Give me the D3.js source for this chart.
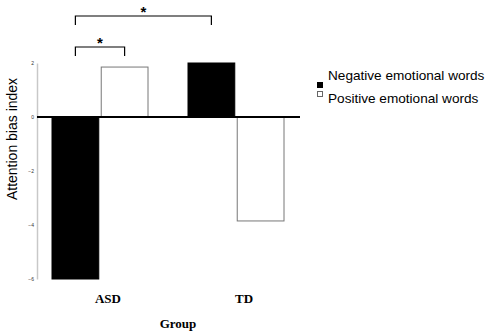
<!DOCTYPE html>
<html>
<head>
<meta charset="utf-8">
<script src="https://cdn.jsdelivr.net/npm/d3@7/dist/d3.min.js"></script>
<style>
  html, body { margin: 0; padding: 0; background: #fff; }
  svg { display: block; }
</style>
</head>
<body>
<svg id="chart" width="485" height="333"></svg>
<script>
// Groups and conditions
const groups = ["ASD", "TD"];
const conditions = ["Negative emotional words", "Positive emotional words"];
// Attention bias index per group, one value per condition
const negativeValues = [-6.0, 2.0];
const positiveValues = [1.85, -3.85];
const yTicks = [2, 0, -2, -4, -6];
const conditionFill = ["#000000", "#ffffff"];
// Significance brackets: [group, condition] pairs joined by each bracket
const brackets = [
  { from: [0, 0], to: [0, 1], label: "*", level: 0 },
  { from: [0, 0], to: [1, 0], label: "*", level: 1 }
];

const svg = d3.select("#chart");

const y = d3.scaleLinear().domain([-6, 2]).range([279, 63]);
const xGroup = d3.scaleBand().domain(groups).range([52, 284]).paddingInner(40 / 136).paddingOuter(0);
const xCond = d3.scaleBand().domain(conditions).range([0, xGroup.bandwidth()]).paddingInner(0.05);

const rows = [];
groups.forEach((g, i) => {
  rows.push({ group: g, cond: conditions[0], value: negativeValues[i], ci: 0 });
  rows.push({ group: g, cond: conditions[1], value: positiveValues[i], ci: 1 });
});

// Y axis
const yAxis = d3.axisLeft(y).tickValues(yTicks).tickSize(0).tickPadding(3).tickFormat(d3.format("d"));
const gy = svg.append("g").attr("transform", "translate(37,0)").call(yAxis);
gy.select(".domain").attr("stroke", "#c8c8c8").attr("stroke-width", 1.5);
gy.selectAll("text").attr("font-family", "Liberation Sans, Arial, sans-serif").attr("font-size", 5).attr("fill", "#333");

// Bars
svg.append("g").selectAll("rect").data(rows).join("rect")
  .attr("x", d => xGroup(d.group) + xCond(d.cond))
  .attr("width", xCond.bandwidth())
  .attr("y", d => y(Math.max(0, d.value)))
  .attr("height", d => Math.abs(y(d.value) - y(0)))
  .attr("fill", d => conditionFill[d.ci])
  .attr("stroke", d => d.ci === 0 ? "#000" : "#777")
  .attr("stroke-width", 1);

// Zero line
svg.append("line")
  .attr("x1", 37).attr("x2", 300)
  .attr("y1", y(0)).attr("y2", y(0))
  .attr("stroke", "#000").attr("stroke-width", 2);

// Group labels
svg.append("g").selectAll("text").data(groups).join("text")
  .attr("x", d => xGroup(d) + xGroup.bandwidth() / 2 + 8)
  .attr("y", 303)
  .attr("text-anchor", "middle")
  .attr("font-family", "Liberation Serif, Times New Roman, serif")
  .attr("font-weight", "bold")
  .attr("font-size", 13)
  .text(d => d);

// Axis titles
svg.append("text")
  .attr("x", 178).attr("y", 328)
  .attr("text-anchor", "middle")
  .attr("font-family", "Liberation Serif, Times New Roman, serif")
  .attr("font-weight", "bold")
  .attr("font-size", 13)
  .text("Group");

svg.append("text")
  .attr("transform", "translate(16.5,139) rotate(-90)")
  .attr("text-anchor", "middle")
  .attr("font-family", "Liberation Sans, Arial, sans-serif")
  .attr("font-size", 14)
  .text("Attention bias index");

// Significance brackets
const barCenter = ([gi, ci]) => xGroup(groups[gi]) + xCond(conditions[ci]) + xCond.bandwidth() / 2;
const bracketY = [47, 16];
const bg = svg.append("g");
brackets.forEach(b => {
  const x1 = barCenter(b.from), x2 = barCenter(b.to), by = bracketY[b.level];
  bg.append("path")
    .attr("d", `M${x1},${by + 9}V${by}H${x2}V${by + 9}`)
    .attr("fill", "none").attr("stroke", "#000").attr("stroke-width", 1.2);
  bg.append("text")
    .attr("x", (x1 + x2) / 2).attr("y", by + 1)
    .attr("text-anchor", "middle")
    .attr("font-family", "Liberation Sans, Arial, sans-serif")
    .attr("font-weight", "bold")
    .attr("font-size", 15)
    .text(b.label);
});

// Legend
const lg = svg.append("g");
conditions.forEach((c, i) => {
  lg.append("rect")
    .attr("x", 317.5).attr("y", 82.5 + i * 9)
    .attr("width", 5).attr("height", 5)
    .attr("fill", conditionFill[i])
    .attr("stroke", i === 0 ? "#000" : "#666").attr("stroke-width", 1);
  lg.append("text")
    .attr("x", 328).attr("y", 80 + i * 23)
    .attr("font-family", "Liberation Sans, Arial, sans-serif")
    .attr("font-size", 13.6)
    .text(c);
});
</script>
</body>
</html>
